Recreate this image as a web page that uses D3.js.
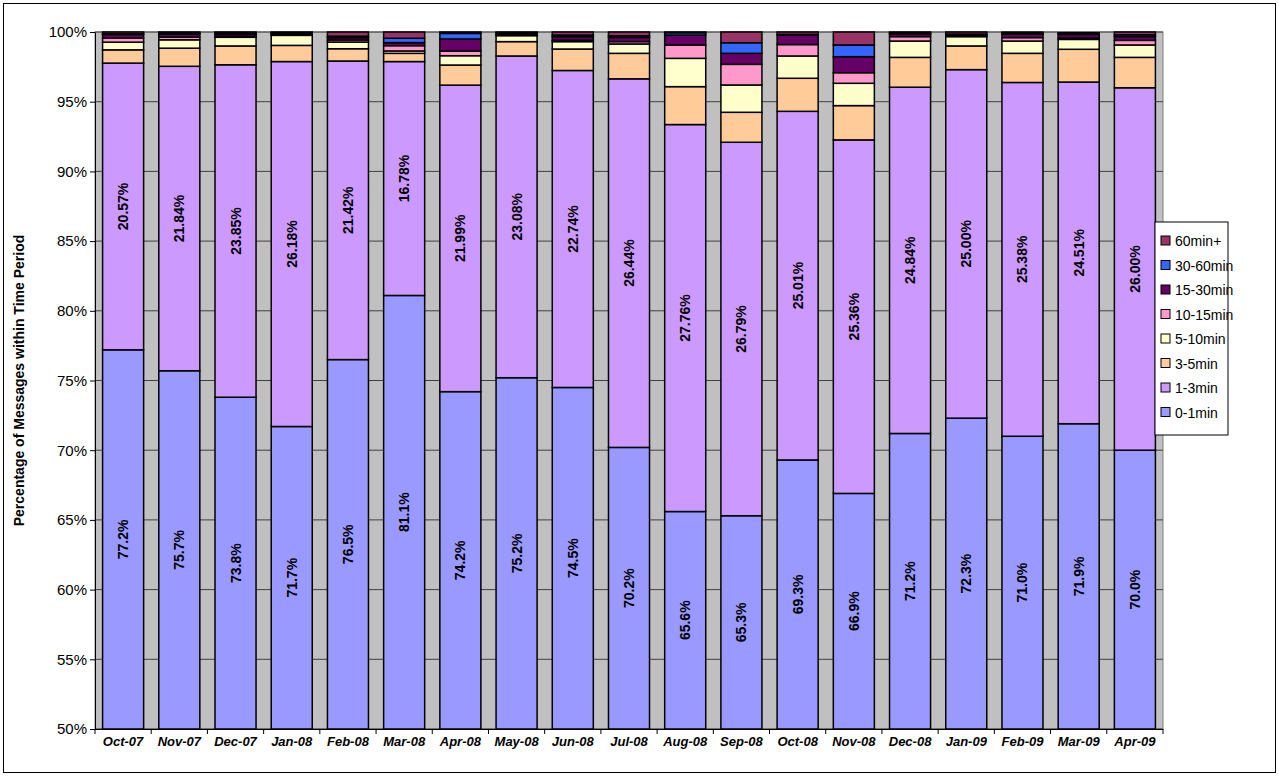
<!DOCTYPE html>
<html><head><meta charset="utf-8">
<script src="https://cdn.jsdelivr.net/npm/d3@7"></script>
<style>body{margin:0;background:#fff}svg{font-family:Arial,"Liberation Sans",sans-serif}</style>
</head><body><svg id="c" width="1279" height="776"></svg>
<script>
var months = ["Oct-07","Nov-07","Dec-07","Jan-08","Feb-08","Mar-08","Apr-08","May-08","Jun-08","Jul-08","Aug-08","Sep-08","Oct-08","Nov-08","Dec-08","Jan-09","Feb-09","Mar-09","Apr-09"]
var series = ["0-1min","1-3min","3-5min","5-10min","10-15min","15-30min","30-60min","60min+"]
var colors = ["#9999ff","#cc99ff","#ffcc99","#ffffcc","#ff99cc","#660066","#3366ff","#993366"]
var s0_1   = [77.2,75.7,73.8,71.7,76.5,81.1,74.2,75.2,74.5,70.2,65.6,65.3,69.3,66.9,71.2,72.3,71.0,71.9,70.0]
var s1_3   = [20.57,21.84,23.85,26.18,21.42,16.78,21.99,23.08,22.74,26.44,27.76,26.79,25.01,25.36,24.84,25.00,25.38,24.51,26.00]
var s3_5   = [0.95,1.3,1.35,1.16,0.88,0.59,1.44,1.03,1.54,1.83,2.72,2.15,2.37,2.46,2.14,1.7,2.09,2.35,2.18]
var s5_10  = [0.55,0.6,0.62,0.72,0.48,0.17,0.67,0.43,0.53,0.67,2.03,1.96,1.6,1.6,1.17,0.67,0.88,0.71,0.89]
var s10_15 = [0.3,0.2,0.08,0.04,0.15,0.38,0.34,0.04,0.1,0.17,0.96,1.48,0.82,0.76,0.32,0.05,0.25,0.1,0.33]
var s15_30 = [0.25,0.2,0.15,0.1,0.17,0.22,0.86,0.12,0.25,0.3,0.71,0.79,0.68,1.15,0.2,0.1,0.25,0.25,0.27]
var s30_60 = [0.05,0.06,0.05,0.02,0.1,0.31,0.4,0.02,0.12,0.12,0.17,0.76,0.05,0.84,0.03,0.03,0.04,0.07,0.13]
var s60p   = [0.13,0.1,0.1,0.08,0.3,0.45,0.1,0.08,0.22,0.27,0.05,0.77,0.17,0.93,0.1,0.15,0.1,0.06,0.2]
var yTicks = [50,55,60,65,70,75,80,85,90,95,100]

var all = [s0_1,s1_3,s3_5,s5_10,s10_15,s15_30,s30_60,s60p]
var table = months.map(function(m,i){
  var o = {month:m}
  series.forEach(function(s,j){ o[s] = all[j][i] })
  return o
})
var stack = d3.stack().keys(series)(table)

var svg = d3.select("#c")
var L = 95, R = 1163, T = 32, B = 729
svg.append("rect").attr("x",3.5).attr("y",3.5).attr("width",1272).attr("height",769).attr("fill","#fff").attr("stroke","#000")

var x = d3.scaleBand().domain(months).range([L,R]).paddingInner(0.27).paddingOuter(0.135)
var y = d3.scaleLinear().domain([50,100]).range([B,T])

svg.append("rect").attr("x",L).attr("y",T).attr("width",R-L).attr("height",B-T).attr("fill","#c0c0c0").attr("stroke","#808080")
svg.selectAll(".grid").data(yTicks).enter().append("line")
  .attr("x1",L).attr("x2",R).attr("y1",d=>y(d)).attr("y2",d=>y(d)).attr("stroke","#404040").attr("stroke-width",1)

var g = svg.selectAll(".ser").data(stack).enter().append("g").attr("fill",(d,i)=>colors[i])
g.selectAll("rect").data(d=>d).enter().append("rect")
  .attr("x",d=>x(d.data.month)).attr("width",x.bandwidth())
  .attr("y",d=>y(Math.min(d[1],100))).attr("height",d=>y(Math.max(d[0],50))-y(Math.min(d[1],100)))
  .attr("stroke","#000").attr("stroke-width",1.5)

// labels
months.forEach(function(m,i){
  var cx = x(m)+x.bandwidth()/2
  var cy0 = (y(50)+y(s0_1[i]))/2
  var cy1 = (y(s0_1[i])+y(s0_1[i]+s1_3[i]))/2
  svg.append("text").attr("transform","translate("+(cx+5)+","+cy0+") rotate(-90)").attr("text-anchor","middle")
    .attr("font-size",14).attr("font-weight","bold").text(s0_1[i].toFixed(1)+"%")
  svg.append("text").attr("transform","translate("+(cx+5)+","+cy1+") rotate(-90)").attr("text-anchor","middle")
    .attr("font-size",14).attr("font-weight","bold").text(s1_3[i].toFixed(2)+"%")
})

var ya = svg.append("g").attr("transform","translate("+L+",0)")
  .call(d3.axisLeft(y).tickValues(yTicks).tickFormat(d=>d+"%").tickSize(5).tickSizeOuter(0))
ya.selectAll("text").attr("font-size",15).attr("fill","#000").attr("font-family","Arial")
ya.select(".domain").attr("stroke","#000")
var xa = svg.append("g").attr("transform","translate(0,"+B+")")
  .call(d3.axisBottom(x).tickSize(0).tickPadding(8))
xa.selectAll("text").attr("font-size",13).attr("font-weight","bold").attr("font-style","italic").attr("fill","#000").attr("font-family","Arial")
xa.select(".domain").attr("stroke","#000")
var step = x.step()
svg.selectAll(".xt").data(d3.range(months.length+1)).enter().append("line")
  .attr("x1",d=>L+d*(R-L)/months.length).attr("x2",d=>L+d*(R-L)/months.length)
  .attr("y1",B).attr("y2",B+5).attr("stroke","#000")

svg.append("text").attr("transform","translate(24,"+((T+B)/2)+") rotate(-90)").attr("text-anchor","middle")
  .attr("font-size",14).attr("font-weight","bold").text("Percentage of Messages within Time Period")

// legend
var lg = svg.append("g").attr("transform","translate(1155,222)")
lg.append("rect").attr("width",73).attr("height",213).attr("fill","#fff").attr("stroke","#000")
series.slice().reverse().forEach(function(s,k){
  var j = series.length-1-k
  lg.append("rect").attr("x",6).attr("y",14+k*24.5).attr("width",9).attr("height",9).attr("fill",colors[j]).attr("stroke","#000")
  lg.append("text").attr("x",20).attr("y",24+k*24.5).attr("font-size",14).text(s)
})
</script></body></html>
